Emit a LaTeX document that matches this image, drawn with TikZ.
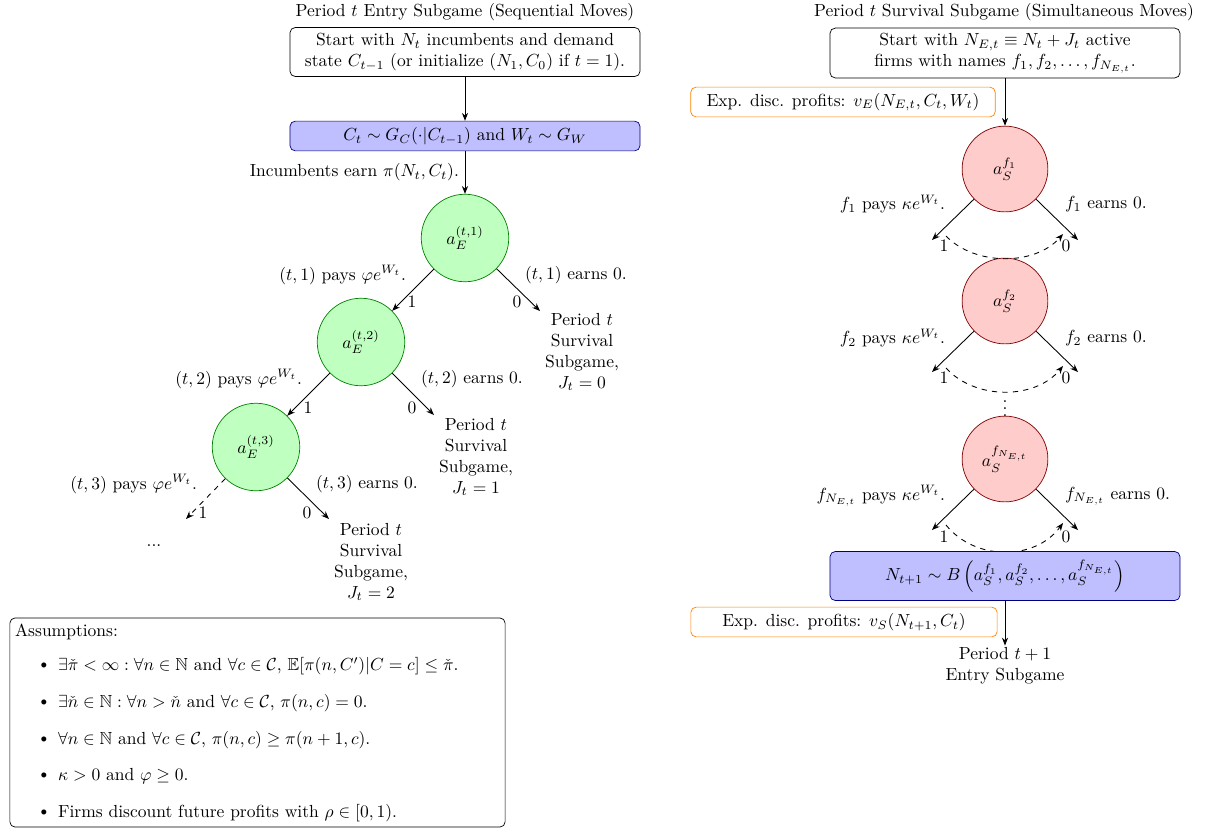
\documentclass[tikz,border=0pt]{standalone}
\usepackage{amsmath,amssymb}
\usetikzlibrary{arrows.meta}
\begin{document}
\begin{tikzpicture}[x=0.5714pt,y=-0.5714pt,
  >={Stealth[length=4.5pt,width=3.5pt]},
  rbox/.style={draw,rounded corners=3pt,minimum width=200pt,align=center,inner sep=2pt},
  bluebox/.style={rbox,fill=blue!25,draw=blue!50!black},
  orbox/.style={draw=orange,rounded corners=3pt,minimum width=174pt,minimum height=17pt,inner sep=2pt},
  enode/.style={circle,draw=green!50!black,fill=green!25,minimum size=50pt,inner sep=0pt},
  snode/.style={circle,draw=red!50!black,fill=red!20,minimum size=49pt,inner sep=0pt},
  plain/.style={inner sep=1pt},
  outcome/.style={align=center,inner sep=1pt},
  conn/.style={->,line width=0.5pt},
  dconn/.style={->,dashed,line width=0.5pt}]
\useasboundingbox (0,0) rectangle (1209,829);

% ---------- left: entry subgame ----------
\node[plain] (lt) at (465,12) {Period $t$ Entry Subgame (Sequential Moves)};
\node[rbox,minimum height=28pt] (b1) at (465,52) {Start with $N_t$ incumbents and demand\\state $C_{t-1}$ (or initialize $(N_1,C_0)$ if $t=1$).};
\node[bluebox,minimum height=17pt] (b2) at (465,136) {$C_t \sim G_C(\cdot|C_{t-1})$ and $W_t \sim G_W$};
\node[enode] (e1) at (465,238) {$a_E^{(t,1)}$};
\node[enode] (e2) at (361,342) {$a_E^{(t,2)}$};
\node[enode] (e3) at (256,447) {$a_E^{(t,3)}$};
\draw[conn] (b1) -- (b2);
\draw[conn] (b2) -- (e1);
\node[plain,anchor=east] (inc) at (461,172) {Incumbents earn $\pi(N_t,C_t)$.};

\coordinate (r1) at (540,311);
\coordinate (r2) at (434,415);
\coordinate (r3) at (329,519);
\coordinate (d3) at (186,519);

\draw[conn] (e1) -- (e2);
\draw[conn] (e1) -- (r1);
\draw[conn] (e2) -- (e3);
\draw[conn] (e2) -- (r2);
\draw[dconn] (e3) -- (d3);
\draw[conn] (e3) -- (r3);

\node[plain] (l11) at (412,302) {1};
\node[plain] (l10) at (517,302) {0};
\node[plain] (l21) at (308,408) {1};
\node[plain] (l20) at (412,408) {0};
\node[plain] (l31) at (203,513) {1};
\node[plain] (l30) at (307,513) {0};

\node[plain,anchor=east] (p1) at (408,275) {$(t,1)$ pays $\varphi e^{W_t}$.};
\node[plain,anchor=west] (n1) at (523,275) {$(t,1)$ earns 0.};
\node[plain,anchor=east] (p2) at (304,379) {$(t,2)$ pays $\varphi e^{W_t}$.};
\node[plain,anchor=west] (n2) at (419,379) {$(t,2)$ earns 0.};
\node[plain,anchor=east] (p3) at (199,484) {$(t,3)$ pays $\varphi e^{W_t}$.};
\node[plain,anchor=west] (n3) at (314,484) {$(t,3)$ earns 0.};

\node[outcome] (o0) at (582,352) {Period $t$\\Survival\\Subgame,\\$J_t=0$};
\node[outcome] (oo1) at (476,457) {Period $t$\\Survival\\Subgame,\\$J_t=1$};
\node[outcome] (oo2) at (371,562) {Period $t$\\Survival\\Subgame,\\$J_t=2$};
\node[plain] (dots) at (154,546) {...};

% ---------- assumptions ----------
\node[draw,rounded corners=3pt,minimum width=283pt,minimum height=119.5pt] (ab) at (257.5,722.5) {};
\node[plain,anchor=west] (at) at (13,632) {Assumptions:};
\node[plain] (bu1) at (44,666) {\textbullet};
\node[plain] (bu2) at (44,703) {\textbullet};
\node[plain] (bu3) at (44,740) {\textbullet};
\node[plain] (bu4) at (44,776) {\textbullet};
\node[plain] (bu5) at (44,813) {\textbullet};
\node[plain,anchor=west] (a1) at (56,666) {$\exists \check{\pi} < \infty : \forall n \in \mathbb{N}$ and $\forall c \in \mathcal{C}$, $\mathbb{E}[\pi(n,C')|C=c] \leq \check{\pi}$.};
\node[plain,anchor=west] (a2) at (56,703) {$\exists \check{n} \in \mathbb{N} : \forall n > \check{n}$ and $\forall c \in \mathcal{C}$, $\pi(n,c)=0$.};
\node[plain,anchor=west] (a3) at (56,740) {$\forall n \in \mathbb{N}$ and $\forall c \in \mathcal{C}$, $\pi(n,c) \geq \pi(n+1,c)$.};
\node[plain,anchor=west] (a4) at (56,776) {$\kappa > 0$ and $\varphi \geq 0$.};
\node[plain,anchor=west] (a5) at (56,813) {Firms discount future profits with $\rho \in [0,1)$.};

% ---------- right: survival subgame ----------
\node[plain] (rt) at (1004,12) {Period $t$ Survival Subgame (Simultaneous Moves)};
\node[rbox,minimum height=28.5pt] (b3) at (1005,53) {Start with $N_{E,t} \equiv N_t + J_t$ active\\firms with names $f_1, f_2, \dots, f_{N_{E,t}}$.};
\node[orbox] (ov1) at (843,102) {Exp. disc. profits: $v_E(N_{E,t},C_t,W_t)$};
\node[snode] (s1) at (1005,169) {$a_S^{f_1}$};
\node[snode] (s2) at (1005,301) {$a_S^{f_2}$};
\node[snode] (s3) at (1005,459) {$a_S^{f_{N_{E,t}}}$};
\draw[conn] (b3) -- (s1);

\coordinate (s1l) at (932,240);
\coordinate (s1r) at (1078,240);
\coordinate (s2l) at (932,372);
\coordinate (s2r) at (1078,372);
\coordinate (s3l) at (932,530);
\coordinate (s3r) at (1078,530);
\draw[conn] (s1) -- (s1l);
\draw[conn] (s1) -- (s1r);
\draw[conn] (s2) -- (s2l);
\draw[conn] (s2) -- (s2r);
\draw[conn] (s3) -- (s3l);
\draw[conn] (s3) -- (s3r);

\node[plain] (m11) at (944,246) {1};
\node[plain] (m10) at (1066,246) {0};
\node[plain] (m21) at (944,378) {1};
\node[plain] (m20) at (1066,378) {0};
\node[plain] (m31) at (944,537) {1};
\node[plain] (m30) at (1066,537) {0};

\coordinate (c1a) at (946,236);
\coordinate (c1b) at (1063,234);
\coordinate (c2a) at (946,368);
\coordinate (c2b) at (1063,366);
\coordinate (c3a) at (946,525);
\coordinate (c3b) at (1063,523);
\draw[dconn] (c1a) .. controls (975,266) and (1035,266) .. (c1b);
\draw[dconn] (c2a) .. controls (975,400) and (1035,400) .. (c2b);
\draw[dconn] (c3a) .. controls (975,561) and (1035,561) .. (c3b);
\node[inner sep=0pt] (vd) at (1005,403) {$\vdots$};

\node[plain,anchor=east] (q1) at (947,204) {$f_1$ pays $\kappa e^{W_t}$.};
\node[plain,anchor=west] (w1) at (1063,204) {$f_1$ earns 0.};
\node[plain,anchor=east] (q2) at (947,338) {$f_2$ pays $\kappa e^{W_t}$.};
\node[plain,anchor=west] (w2) at (1063,338) {$f_2$ earns 0.};
\node[plain,anchor=east] (q3) at (947,496) {$f_{N_{E,t}}$ pays $\kappa e^{W_t}$.};
\node[plain,anchor=west] (w3) at (1063,496) {$f_{N_{E,t}}$ earns 0.};

\node[bluebox,minimum height=28pt] (b4) at (1005,576) {$N_{t+1} \sim B\left(a_S^{f_1}, a_S^{f_2}, \dots, a_S^{f_{N_{E,t}}}\right)$};
\node[orbox,minimum width=175pt] (ov2) at (844,622) {Exp. disc. profits: $v_S(N_{t+1},C_t)$};
\node[outcome] (nx) at (1005,666) {Period $t+1$\\Entry Subgame};
\draw[conn] (b4) -- (nx);
\end{tikzpicture}
\end{document}
